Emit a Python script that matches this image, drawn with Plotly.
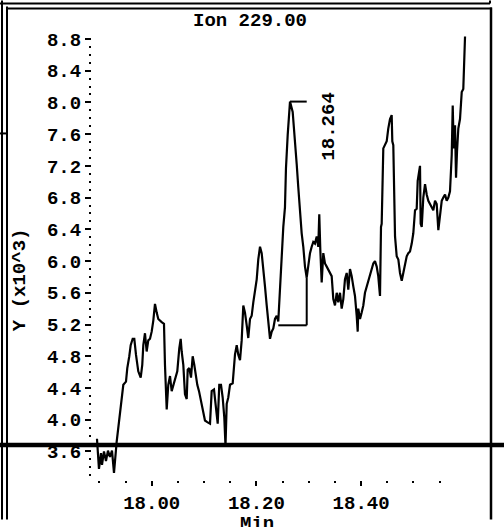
import plotly.graph_objects as go

# ---- data (retention time in min, abundance in x10^3) ----
times = [17.8955, 17.8974, 17.8993, 17.9032, 17.9051, 17.9089, 17.9127, 17.9165, 17.9203, 17.9242,
         17.9280, 17.9331, 17.9394, 17.9458, 17.9509, 17.9534, 17.9572, 17.9599, 17.9637, 17.9668,
         17.9700, 17.9744, 17.9790, 17.9820, 17.9840, 17.9872, 17.9904, 17.9935, 17.9968, 18.0000,
         18.0031, 18.0063, 18.0096, 18.0126, 18.0191, 18.0235, 18.0254, 18.0287, 18.0317, 18.0350,
         18.0382, 18.0413, 18.0445, 18.0489, 18.0527, 18.0554, 18.0573, 18.0604, 18.0636, 18.0669,
         18.0688, 18.0718, 18.0751, 18.0783, 18.0814, 18.0846, 18.0871, 18.0904, 18.0942, 18.0986,
         18.1018, 18.1062, 18.1114, 18.1146, 18.1190, 18.1228, 18.1261, 18.1291, 18.1324, 18.1356,
         18.1387, 18.1410, 18.1433, 18.1463, 18.1496, 18.1547, 18.1591, 18.1624, 18.1654, 18.1687,
         18.1719, 18.1750, 18.1782, 18.1815, 18.1845, 18.1878, 18.1910, 18.1941, 18.1973, 18.2006,
         18.2036, 18.2069, 18.2101, 18.2132, 18.2164, 18.2197, 18.2227, 18.2260, 18.2292, 18.2323,
         18.2355, 18.2388, 18.2418, 18.2451, 18.2483, 18.2514, 18.2546, 18.2565, 18.2598, 18.2623,
         18.2642, 18.2693, 18.2737, 18.2770, 18.2800, 18.2833, 18.2865, 18.2896, 18.2928, 18.2961,
         18.2991, 18.3024, 18.3056, 18.3087, 18.3119, 18.3152, 18.3182, 18.3201, 18.3221, 18.3247,
         18.3278, 18.3310, 18.3343, 18.3373, 18.3406, 18.3438, 18.3469, 18.3501, 18.3534, 18.3564,
         18.3597, 18.3629, 18.3660, 18.3692, 18.3725, 18.3755, 18.3788, 18.3820, 18.3851, 18.3883,
         18.3916, 18.3935, 18.3946, 18.3979, 18.4011, 18.4042, 18.4074, 18.4107, 18.4137, 18.4170,
         18.4202, 18.4233, 18.4265, 18.4298, 18.4328, 18.4361, 18.4380, 18.4393, 18.4424, 18.4456,
         18.4489, 18.4519, 18.4552, 18.4584, 18.4596, 18.4615, 18.4634, 18.4648, 18.4680, 18.4711,
         18.4743, 18.4776, 18.4806, 18.4839, 18.4871, 18.4902, 18.4934, 18.4967, 18.4997, 18.5030,
         18.5062, 18.5081, 18.5106, 18.5125, 18.5138, 18.5158, 18.5188, 18.5221, 18.5253, 18.5284,
         18.5316, 18.5349, 18.5379, 18.5412, 18.5444, 18.5475, 18.5507, 18.5540, 18.5570, 18.5603,
         18.5635, 18.5666, 18.5698, 18.5731, 18.5750, 18.5769, 18.5794, 18.5813, 18.5832, 18.5857,
         18.5889, 18.5922, 18.5952, 18.5971, 18.5985]

abundance = [3.76, 3.55, 3.38, 3.58, 3.43, 3.60, 3.48, 3.61, 3.53, 3.61,
             3.33, 3.72, 4.07, 4.44, 4.48, 4.65, 4.80, 4.94, 5.02, 5.02,
             4.82, 4.61, 4.53, 4.69, 4.94, 5.09, 4.86, 5.00, 5.02, 5.11,
             5.25, 5.46, 5.35, 5.27, 5.23, 5.21, 4.69, 4.13, 4.44, 4.55,
             4.36, 4.44, 4.51, 4.61, 4.90, 5.02, 4.86, 4.69, 4.32, 4.26,
             4.63, 4.65, 4.53, 4.80, 4.69, 4.53, 4.44, 4.36, 4.24, 4.11,
             3.99, 3.97, 3.95, 4.36, 4.38, 4.15, 3.95, 4.44, 4.44, 4.28,
             4.03, 3.67, 4.20, 4.28, 4.44, 4.46, 4.82, 4.94, 4.82, 4.75,
             5.00, 5.44, 5.35, 5.19, 5.03, 5.27, 5.31, 5.48, 5.64, 5.77,
             6.02, 6.18, 6.10, 5.93, 5.68, 5.44, 5.27, 5.02, 5.11, 5.15,
             5.27, 5.31, 5.24, 5.68, 6.10, 6.43, 6.68, 7.17, 7.59, 7.88,
             8.01, 7.88, 7.55, 7.22, 6.93, 6.59, 6.35, 6.18, 5.93, 5.79,
             5.93, 6.10, 6.18, 6.24, 6.22, 6.31, 6.18, 6.59, 6.14, 5.73,
             6.10, 5.97, 5.93, 5.89, 5.85, 5.81, 5.52, 5.44, 5.60, 5.48,
             5.60, 5.40, 5.52, 5.77, 5.85, 5.64, 5.90, 5.81, 5.68, 5.56,
             5.31, 5.11, 5.40, 5.27, 5.35, 5.44, 5.60, 5.68, 5.77, 5.85,
             5.93, 5.97, 6.00, 5.93, 5.81, 5.56, 6.43, 6.47, 7.42, 7.46,
             7.51, 7.67, 7.79, 7.84, 7.51, 7.46, 6.84, 6.31, 6.06, 6.02,
             5.85, 5.75, 5.85, 5.97, 6.06, 6.10, 6.12, 6.22, 6.35, 6.64,
             6.66, 7.01, 7.17, 7.20, 6.47, 6.43, 6.80, 6.97, 6.84, 6.76,
             6.72, 6.68, 6.64, 6.76, 6.72, 6.39, 6.59, 6.76, 6.80, 6.84,
             6.76, 6.80, 6.88, 7.34, 7.96, 7.42, 7.71, 7.05, 7.38, 7.67,
             7.79, 8.13, 8.17, 8.54, 8.83]

# integrated peak
peak_label = "18.264"
peak_apex_time = 18.2642
peak_apex_value = 8.01
peak_start_time = 18.2418
peak_end_time = 18.2961
peak_end_value = 5.79
peak_baseline = 5.19

# axis ticks
y_ticks = [3.6, 4.0, 4.4, 4.8, 5.2, 5.6, 6.0, 6.4, 6.8, 7.2, 7.6, 8.0, 8.4, 8.8]
y_minor = [round(3.3 + 0.1 * i, 2) for i in range(56)]
x_ticks = [18.00, 18.20, 18.40]
x_tick_text = ["18.00", "18.20", "18.40"]
x_minor = [round(17.90 + 0.05 * i, 2) for i in range(14)]

title_text = "Ion 229.00"
y_title = "Y (x10^3)"
x_title = "Min"

# ---- layout geometry ----
W, H = 504, 527
L, R, T, B = 92, 34, 34, 40
PW, PH = W - L - R, H - T - B
FONT = "Liberation Mono"
FS = 19
TXT = dict(family=FONT, size=FS, color="black", weight="bold")


def px(xp):
    return (xp - L) / PW


def py(yp):
    return (H - B - yp) / PH


fig = go.Figure()
fig.add_trace(go.Scatter(x=times, y=abundance, mode="lines",
                         line=dict(color="black", width=2.2), hoverinfo="skip",
                         showlegend=False))

shapes = []
# peak baseline and apex marker
shapes.append(dict(type="line", xref="x", yref="y", x0=peak_start_time, x1=peak_end_time,
                   y0=peak_baseline, y1=peak_baseline, line=dict(color="black", width=2)))
shapes.append(dict(type="line", xref="x", yref="y", x0=peak_end_time, x1=peak_end_time,
                   y0=peak_baseline, y1=peak_end_value, line=dict(color="black", width=2)))
shapes.append(dict(type="line", xref="x", yref="y", x0=peak_apex_time, x1=peak_end_time,
                   y0=peak_apex_value, y1=peak_apex_value, line=dict(color="black", width=2)))


# page frame (scanned printout borders)
def frame_line(x0, y0, x1, y1, w):
    shapes.append(dict(type="line", xref="paper", yref="paper", x0=px(x0), x1=px(x1),
                       y0=py(y0), y1=py(y1), line=dict(color="black", width=w)))


frame_line(2, 0, 2, H, 2)
frame_line(7, 6, 7, H, 2)
frame_line(0, 3, 490, 3, 2)
frame_line(490, 0, 490, 3, 2)
frame_line(7, 8, 492, 8, 2)
frame_line(491, 7, 491, H, 2.5)
frame_line(0, 135, 7, 135, 2)
frame_line(0, 451.5, W, 451.5, 4.5)

annotations = [
    dict(text=title_text, xref="paper", yref="paper", x=px(250), y=py(21),
         xanchor="center", yanchor="middle", showarrow=False, font=TXT),
    dict(text=y_title, xref="paper", yref="paper", x=px(20), y=py(284),
         xanchor="center", yanchor="middle", textangle=-90, showarrow=False, font=TXT),
    dict(text=x_title, xref="paper", yref="paper", x=px(257), y=py(512),
         xanchor="center", yanchor="top", yshift=-6, showarrow=False, font=TXT),
    dict(text=peak_label, xref="x", yref="y", x=peak_apex_time, y=peak_apex_value,
         xshift=39, yshift=-25, textangle=-90, xanchor="center", yanchor="middle",
         showarrow=False, font=TXT),
]

fig.update_layout(
    width=W, height=H,
    margin=dict(l=L, r=R, t=T, b=B, pad=0),
    paper_bgcolor="white", plot_bgcolor="white",
    font=TXT,
    shapes=shapes, annotations=annotations, showlegend=False,
    xaxis=dict(range=[17.886, 18.608], showgrid=False, zeroline=False, showline=False,
               tickmode="array", tickvals=x_ticks, ticktext=x_tick_text,
               ticks="outside", ticklen=5, tickwidth=1.5, tickcolor="black",
               minor=dict(tickmode="array", tickvals=x_minor, ticks="outside",
                          ticklen=2, tickwidth=2, tickcolor="black"),
               tickfont=TXT),
    yaxis=dict(range=[3.240, 8.862], showgrid=False, zeroline=False, showline=False,
               tickmode="array", tickvals=y_ticks, tickformat=".1f",
               ticks="outside", ticklen=6, tickwidth=2, tickcolor="black",
               minor=dict(tickmode="array", tickvals=y_minor, ticks="outside",
                          ticklen=2, tickwidth=2, tickcolor="black"),
               tickfont=TXT),
)

fig.write_html("out.html", config={"displayModeBar": False},
               post_script="document.body.style.margin='0px';document.body.style.overflow='hidden';")
